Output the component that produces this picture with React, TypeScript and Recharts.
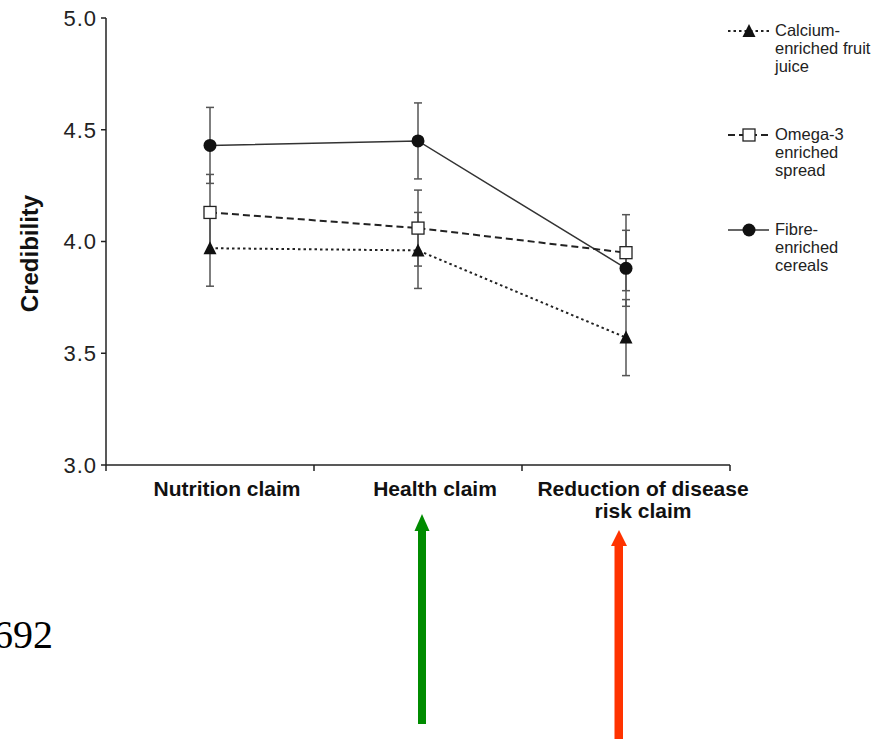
import { LineChart, Line, XAxis, YAxis, ErrorBar } from "recharts";

// Category tick labels (one entry per line of the wrapped label)
const categories = [["Nutrition claim"], ["Health claim"], ["Reduction of disease", "risk claim"]];

// Mean credibility per claim type
const calcium = [3.97, 3.96, 3.57];
const omega = [4.13, 4.06, 3.95];
const fibre = [4.43, 4.45, 3.88];

// Error bar half-lengths
const calciumErr = [0.17, 0.17, 0.17];
const omegaErr = [0.17, 0.17, 0.17];
const fibreErr = [0.17, 0.17, 0.17];

const yTicks = [3.0, 3.5, 4.0, 4.5, 5.0];
const xTicks = [0, 0.5, 1, 1.5, 2, 2.5, 3];

const SANS = '"Liberation Sans", Arial, Helvetica, sans-serif';
const SERIF = '"Liberation Serif", "Times New Roman", serif';

const data = categories.map((c, i) => ({
  pos: i + 0.5,
  calcium: calcium[i],
  omega: omega[i],
  fibre: fibre[i],
  calciumErr: calciumErr[i],
  omegaErr: omegaErr[i],
  fibreErr: fibreErr[i],
}));

const triangle = (cx: number, cy: number, key?: string) => (
  <polygon key={key} points={`${cx},${cy - 7} ${cx - 6.5},${cy + 6} ${cx + 6.5},${cy + 6}`} fill="#111" />
);
const square = (cx: number, cy: number, key?: string) => (
  <rect key={key} x={cx - 6} y={cy - 6} width={12} height={12} fill="#fff" stroke="#222" strokeWidth={1.3} />
);
const circle = (cx: number, cy: number, key?: string) => (
  <circle key={key} cx={cx} cy={cy} r={6.5} fill="#111" />
);

const series = [
  { key: "calcium", name: ["Calcium-", "enriched fruit", "juice"], dash: "2.5 3", width: 2, color: "#222", marker: triangle, legendY: 36 },
  { key: "omega", name: ["Omega-3", "enriched", "spread"], dash: "7 4", width: 2, color: "#222", marker: square, legendY: 140 },
  { key: "fibre", name: ["Fibre-", "enriched", "cereals"], dash: undefined, width: 1.5, color: "#333", marker: circle, legendY: 235 },
];

// draw order so the white squares sit on top
const drawOrder = ["fibre", "calcium", "omega"];

const XTick = (props: any) => {
  const { x, y, payload } = props;
  const v = payload.value;
  if (Number.isInteger(v)) {
    return <line x1={x} y1={y} x2={x} y2={y + 6} stroke="#222" strokeWidth={1.5} />;
  }
  const lines = categories[Math.floor(v)];
  return (
    <text textAnchor="middle" fontSize={21} fontWeight="bold" fill="#111" fontFamily={SANS}>
      {lines.map((l, i) => (
        <tspan key={i} x={x + 17} y={y + 31 + i * 22}>
          {l}
        </tspan>
      ))}
    </text>
  );
};

const CredLabel = (props: any) => {
  const vb = props.viewBox || { y: 18, height: 447 };
  const cy = vb.y + vb.height / 2 + 12;
  return (
    <text
      x={29}
      y={cy}
      transform={`rotate(-90 29 ${cy})`}
      textAnchor="middle"
      dominantBaseline="central"
      fontSize={24}
      fontWeight="bold"
      fill="#111"
      fontFamily={SANS}
    >
      Credibility
    </text>
  );
};

export default function App() {
  return (
    <div style={{ position: "absolute", left: 0, top: 0, width: 880, height: 739, background: "#fff" }}>
      <LineChart width={880} height={739} data={data} margin={{ top: 18, right: 150, bottom: 214, left: 0 }}>
        <XAxis
          type="number"
          dataKey="pos"
          domain={[0, 3]}
          ticks={xTicks}
          interval={0}
          tick={<XTick />}
          tickSize={0}
          tickMargin={0}
          tickLine={false}
          axisLine={{ stroke: "#222", strokeWidth: 1.5 }}
          height={60}
        />
        <YAxis
          type="number"
          domain={[3, 5]}
          ticks={yTicks}
          interval={0}
          tickFormatter={(v: number) => v.toFixed(1)}
          width={106}
          tick={{ fontSize: 22, fill: "#222", fontFamily: SANS, letterSpacing: 1 }}
          tickSize={5}
          tickMargin={4}
          axisLine={{ stroke: "#222", strokeWidth: 1.5 }}
          tickLine={{ stroke: "#222", strokeWidth: 1.5 }}
          label={{ content: CredLabel }}
        />
        {/* error bars first, beneath all markers */}
        {series.map((s) => (
          <Line
            key={s.key + "-err"}
            dataKey={s.key}
            stroke="none"
            dot={false}
            activeDot={false}
            legendType="none"
            isAnimationActive={false}
          >
            <ErrorBar dataKey={s.key + "Err"} direction="y" width={4} stroke="#555" strokeWidth={1.5} isAnimationActive={false} />
          </Line>
        ))}
        {drawOrder.map((k) => {
          const s = series.find((d) => d.key === k)!;
          return (
            <Line
              key={s.key}
              dataKey={s.key}
              stroke={s.color}
              strokeWidth={s.width}
              strokeDasharray={s.dash}
              dot={(p: any) => s.marker(p.cx, p.cy, `${s.key}-${p.index}`)}
              activeDot={false}
              isAnimationActive={false}
            />
          );
        })}
      </LineChart>
      <svg width={880} height={739} style={{ position: "absolute", left: 0, top: 0, pointerEvents: "none" }}>
        {/* legend */}
        {series.map((s) => {
          const iy = s.legendY - 5;
          return (
            <g key={s.key}>
              <line x1={728} y1={iy} x2={769} y2={iy} stroke={s.color} strokeWidth={s.width} strokeDasharray={s.dash} />
              {s.marker(749, iy)}
              <text fontSize={16.5} fill="#222" fontFamily={SANS}>
                {s.name.map((l, i) => (
                  <tspan key={i} x={775} y={s.legendY + i * 18}>
                    {l}
                  </tspan>
                ))}
              </text>
            </g>
          );
        })}
        {/* annotations */}
        <text x={-7} y={648} fontSize={40} fontFamily={SERIF} fill="#000">
          692
        </text>
        <rect x={418} y={529} width={8} height={195} fill="#008c00" />
        <polygon points="422,514 414.5,531 429.5,531" fill="#008c00" />
        <rect x={614.5} y={544} width={8.5} height={200} fill="#ff3300" />
        <polygon points="619,530 611,546 627,546" fill="#ff3300" />
      </svg>
    </div>
  );
}
